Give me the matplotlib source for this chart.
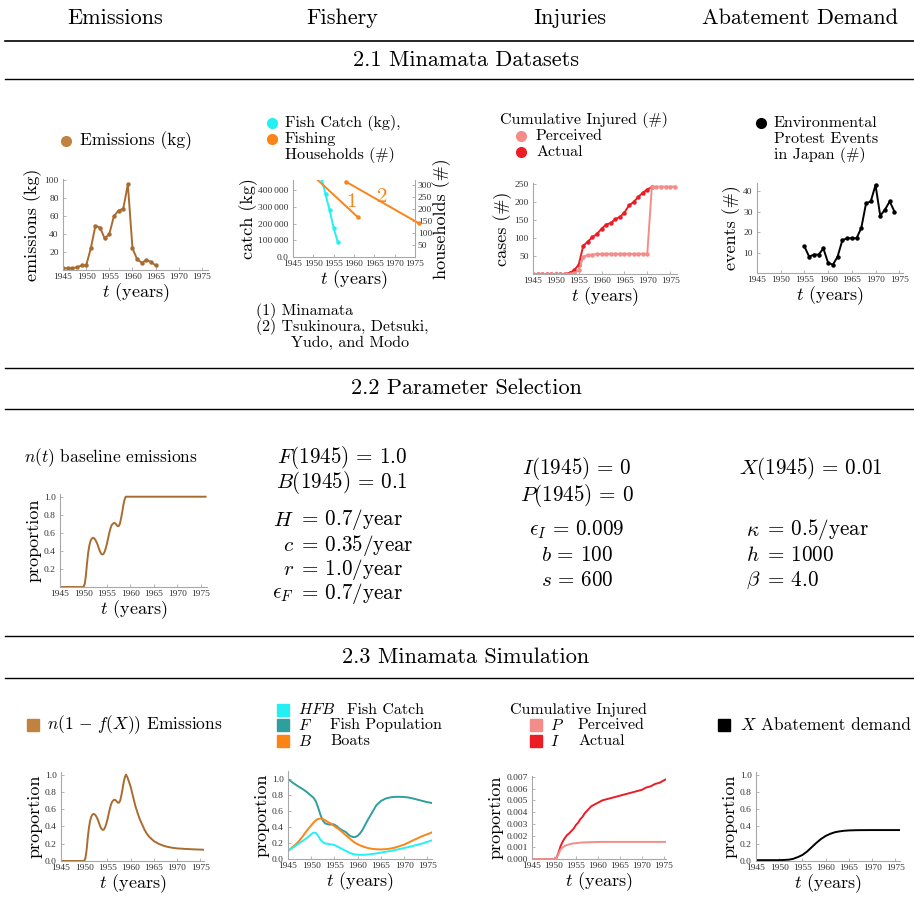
import matplotlib
matplotlib.use("Agg")
import matplotlib.pyplot as plt
from matplotlib.lines import Line2D

plt.rcParams['font.family'] = ['cmr10', 'DejaVu Serif']
plt.rcParams['mathtext.fontset'] = 'cm'
plt.rcParams['axes.formatter.use_mathtext'] = True
plt.rcParams['axes.unicode_minus'] = False

TICKFONT = ['Liberation Serif', 'DejaVu Serif']

BROWN = '#a96c30'
BROWN_KEY = '#c0833f'
CYAN = '#24f0f4'
TEAL = '#2f9e9e'
ORANGE = '#fb8417'
PINK = '#f48c8a'
RED = '#ec1c24'
AXIS_GREY = '#a8a8a8'

# ---- 2.1 datasets ----
emis_years = list(range(1945, 1966))
emis_kg = [2, 2, 2, 3, 5, 5, 24, 49, 47, 35, 40, 60, 66, 68, 95, 24, 12, 8, 11, 9, 5]

catch_years = [1952, 1953, 1954, 1955, 1956]
catch_kg = [470000, 375000, 280000, 174000, 90000]
households_minamata_years = [1950, 1961]
households_minamata = [338, 165]
households_other_years = [1958, 1976]
households_other = [314, 140]

injured_years = list(range(1945, 1977))
injured_actual = [0, 0, 0, 0, 0, 0, 0, 0, 3, 10, 26, 78, 90, 102, 111, 125, 137, 141,
                  152, 158, 170, 190, 199, 213, 225, 234, 241]
injured_perceived = [0, 0, 0, 0, 0, 0, 0, 0, 0, 2, 10, 48, 52, 54, 55, 56, 56, 56, 56,
                     56, 56, 56, 56, 56, 56, 56, 242, 242, 242, 242, 242, 242]

protest_years = list(range(1955, 1975))
protest_events = [13, 8, 9, 9, 12, 5, 4, 8, 16, 17, 17, 17, 22, 34, 35, 43, 28, 31, 35, 30]

# ---- 2.2 baseline emissions n(t) ----
n_years = [1945, 1950.0, 1950.25, 1950.5, 1950.75, 1951.0, 1951.25, 1951.5, 1951.75,
           1952.0, 1952.25, 1952.5, 1952.75, 1953.0, 1953.25, 1953.5, 1953.75, 1954.0,
           1954.25, 1954.5, 1954.75, 1955.0, 1955.25, 1955.5, 1955.75, 1956.0, 1956.25,
           1956.5, 1956.75, 1957.0, 1957.25, 1957.5, 1957.75, 1958.0, 1958.25, 1958.5,
           1958.75, 1959.0, 1976]
n_vals = [0, 0, 0.03, 0.12, 0.26, 0.38, 0.46, 0.51, 0.535, 0.545, 0.54, 0.525, 0.50,
          0.47, 0.43, 0.395, 0.37, 0.36, 0.365, 0.39, 0.43, 0.48, 0.54, 0.60, 0.65,
          0.685, 0.70, 0.71, 0.705, 0.69, 0.675, 0.675, 0.70, 0.76, 0.83, 0.91, 0.97,
          1.0, 1.0]

# ---- 2.3 simulation ----
sim_emis_years = n_years[:-1] + [1959.25, 1959.5, 1959.75, 1960, 1960.5, 1961, 1961.5,
                                 1962, 1962.5, 1963, 1963.5, 1964, 1965, 1966, 1967,
                                 1968, 1969, 1970, 1972, 1974, 1976]
sim_emis = n_vals[:-1] + [0.975, 0.94, 0.90, 0.86, 0.75, 0.64, 0.555, 0.48, 0.42, 0.36,
                          0.315, 0.28, 0.23, 0.20, 0.178, 0.163, 0.153, 0.146, 0.139,
                          0.134, 0.13]

fish_years = [1945, 1946, 1947, 1948, 1949, 1950, 1950.5, 1951, 1951.5, 1952, 1952.5,
              1953, 1953.5, 1954, 1954.5, 1955, 1955.5, 1956, 1956.5, 1957, 1957.5,
              1958, 1958.5, 1959, 1959.5, 1960, 1960.5, 1961, 1961.5, 1962, 1963, 1964,
              1965, 1966, 1967, 1968, 1969, 1970, 1971, 1972, 1973, 1974, 1975, 1976]
fish_F = [1.0, 0.955, 0.915, 0.88, 0.84, 0.79, 0.765, 0.72, 0.64, 0.55, 0.48, 0.445,
          0.435, 0.43, 0.435, 0.43, 0.41, 0.385, 0.365, 0.35, 0.335, 0.305, 0.285,
          0.275, 0.275, 0.29, 0.32, 0.36, 0.415, 0.47, 0.57, 0.67, 0.725, 0.755, 0.77,
          0.777, 0.777, 0.775, 0.768, 0.755, 0.74, 0.725, 0.71, 0.70]
fish_B = [0.1, 0.15, 0.2, 0.27, 0.35, 0.42, 0.455, 0.485, 0.5, 0.505, 0.5, 0.485, 0.465,
          0.45, 0.43, 0.41, 0.39, 0.37, 0.345, 0.32, 0.295, 0.27, 0.245, 0.22, 0.2,
          0.185, 0.17, 0.16, 0.15, 0.14, 0.128, 0.122, 0.12, 0.123, 0.13, 0.142, 0.16,
          0.18, 0.207, 0.235, 0.262, 0.288, 0.31, 0.333]
fish_HFB = [0.1, 0.14, 0.18, 0.22, 0.26, 0.31, 0.33, 0.325, 0.29, 0.24, 0.21, 0.195,
            0.19, 0.185, 0.18, 0.175, 0.16, 0.145, 0.13, 0.115, 0.1, 0.085, 0.072,
            0.062, 0.056, 0.053, 0.052, 0.052, 0.053, 0.055, 0.062, 0.07, 0.08, 0.09,
            0.1, 0.112, 0.124, 0.137, 0.15, 0.165, 0.18, 0.195, 0.215, 0.233]

inj_years = [1945, 1950, 1950.5, 1951, 1951.5, 1952, 1952.5, 1953, 1953.5, 1954, 1954.5,
             1955, 1955.5, 1956, 1956.5, 1957, 1957.5, 1958, 1958.5, 1959, 1959.5, 1960,
             1961, 1962, 1963, 1964, 1965, 1966, 1967, 1968, 1969, 1970, 1971, 1972,
             1973, 1974, 1975, 1975.5]
inj_I = [0, 0, 0.00003, 0.0005, 0.0011, 0.0015, 0.0018, 0.00205, 0.0022, 0.0024, 0.0026,
         0.0029, 0.0031, 0.0034, 0.0036, 0.0039, 0.0041, 0.0043, 0.0045, 0.0046, 0.0047,
         0.0048, 0.005, 0.0051, 0.0052, 0.0053, 0.0054, 0.0055, 0.0056, 0.0057, 0.0058,
         0.0059, 0.0061, 0.0062, 0.0064, 0.0065, 0.0067, 0.0068]
inj_P = [0, 0, 0.00003, 0.0004, 0.0008, 0.001, 0.00112, 0.0012, 0.00125, 0.0013, 0.00133,
         0.00135, 0.00137, 0.0014, 0.00141, 0.00142, 0.00142, 0.00143, 0.00144, 0.00144,
         0.00145, 0.00145, 0.00146, 0.00146, 0.00146, 0.00146, 0.00146, 0.00146,
         0.00146, 0.00146, 0.00146, 0.00146, 0.00146, 0.00146, 0.00146, 0.00146,
         0.00146, 0.00146]

x_years = [1945, 1950, 1951, 1952, 1953, 1954, 1955, 1956, 1957, 1958, 1959, 1960, 1961,
           1962, 1963, 1964, 1965, 1967, 1970, 1976]
x_demand = [0.01, 0.01, 0.012, 0.015, 0.025, 0.045, 0.07, 0.11, 0.16, 0.21, 0.255, 0.29,
            0.315, 0.333, 0.343, 0.35, 0.354, 0.357, 0.358, 0.358]

year_ticks = [1945, 1950, 1955, 1960, 1965, 1970, 1975]

W, H = 914, 915
fig = plt.figure(figsize=(W / 100, H / 100), dpi=100)

LEG = 12.5     # single-line legend / caption text
STACK = 11.5   # stacked legend rows
LAB = 13       # axis labels
TICK = 6.8     # tick labels
PS = 15.2      # parameter equations


def px_axes(left, top, right, bottom):
    return fig.add_axes([left / W, 1 - bottom / H, (right - left) / W, (bottom - top) / H])


def ftext(x, y, s, size=LEG, ha='left', va='center', **kw):
    fig.text(x / W, 1 - y / H, s, fontsize=size, ha=ha, va=va, **kw)


def hline(y, lw=1.0):
    fig.add_artist(Line2D([5 / W, 914 / W], [1 - y / H, 1 - y / H], color='black', lw=lw))


def key(x, y, color, marker='o', size=7):
    fig.add_artist(Line2D([x / W], [1 - y / H], marker=marker, color=color,
                          markersize=size, lw=0))


def style(ax, xlim, ylim, yticks, ylabels, ylab):
    for side in ['top', 'right']:
        ax.spines[side].set_visible(False)
    for side in ['left', 'bottom']:
        ax.spines[side].set_color(AXIS_GREY)
        ax.spines[side].set_linewidth(0.8)
    ax.set_xlim(*xlim)
    ax.set_ylim(*ylim)
    ax.set_xticks(year_ticks, labels=[str(y) for y in year_ticks],
                  fontfamily=TICKFONT, fontsize=TICK)
    ax.set_yticks(yticks, labels=ylabels, fontfamily=TICKFONT, fontsize=TICK)
    ax.tick_params(direction='in', length=2.5, width=0.6, color=AXIS_GREY,
                   labelcolor='#333333')
    ax.tick_params(axis='x', pad=2.5)
    ax.tick_params(axis='y', pad=3)
    ax.set_xlabel('$t$ (years)', fontsize=LAB, labelpad=0)
    ax.set_ylabel(ylab, fontsize=LAB, labelpad=2)
    ax.patch.set_alpha(0)


# ---- header and section rules ----
for cx, label in zip([115, 342, 570, 800], ['Emissions', 'Fishery', 'Injuries', 'Abatement Demand']):
    ftext(cx, 18, label, size=16, ha='center')
hline(41, 1.2)
hline(79)
hline(368)
hline(409)
hline(636)
hline(678)
ftext(466, 60, '2.1 Minamata Datasets', size=16, ha='center')
ftext(466, 388, '2.2 Parameter Selection', size=16, ha='center')
ftext(466, 657, '2.3 Minamata Simulation', size=16, ha='center')

# ---- 2.1 row ----
ax = px_axes(63, 179, 208, 270)
ax.plot(emis_years, emis_kg, color=BROWN, lw=1.4, marker='o', markersize=2.2)
style(ax, (1945, 1976.3), (0, 101), [20, 40, 60, 80, 100],
      ['20', '40', '60', '80', '100'], 'emissions (kg)')
key(66, 141, BROWN_KEY)
ftext(80, 141, 'Emissions (kg)')

ax = px_axes(293, 180, 415, 257)
ax.plot(catch_years, catch_kg, color=CYAN, lw=1.4, marker='o', markersize=2.2)
style(ax, (1945, 1975), (0, 460000), [0, 100000, 200000, 300000, 400000],
      ['0.0', '100\u2009000', '200\u2009000', '300\u2009000', '400\u2009000'],
      'catch (kg)')
ax.yaxis.labelpad = 0
ax2 = ax.twinx()
ax2.set_ylim(0, 321)
ax2.plot(households_minamata_years, households_minamata, color=ORANGE, lw=1.4,
         marker='o', markersize=2.2)
ax2.plot(households_other_years, households_other, color=ORANGE, lw=1.4,
         marker='o', markersize=2.2, clip_on=False)
for side in ['top', 'left', 'bottom']:
    ax2.spines[side].set_visible(False)
ax2.spines['right'].set_color(AXIS_GREY)
ax2.spines['right'].set_linewidth(0.8)
ax2.set_yticks([50, 100, 150, 200, 250, 300],
               labels=['50', '100', '150', '200', '250', '300'],
               fontfamily=TICKFONT, fontsize=TICK)
ax2.tick_params(direction='in', length=2.5, width=0.6, color=AXIS_GREY,
                labelcolor='#333333', pad=2)
ax2.set_ylabel('households (#)', fontsize=LAB, labelpad=0)
ax2.text(1959.3, 229, '1', color=ORANGE, fontsize=15, ha='center', va='center')
ax2.text(1966.9, 250, '2', color=ORANGE, fontsize=15, ha='center', va='center')
key(272, 123, CYAN)
key(272, 139, ORANGE)
ftext(285, 123, 'Fish Catch (kg),', size=STACK)
ftext(285, 139, 'Fishing', size=STACK)
ftext(285, 155, 'Households (#)', size=STACK)
ftext(256, 311, '(1) Minamata', size=STACK)
ftext(256, 327, '(2) Tsukinoura, Detsuki,', size=STACK)
ftext(291, 343, 'Yudo, and Modo', size=STACK)

ax = px_axes(533, 183, 677, 274)
ax.plot(injured_years[:len(injured_actual)], injured_actual, color=RED, lw=1.4,
        marker='o', markersize=2.2)
ax.plot(injured_years, injured_perceived, color=PINK, lw=1.4, marker='o', markersize=2.2)
style(ax, (1945, 1976.5), (0, 252), [50, 100, 150, 200, 250],
      ['50', '100', '150', '200', '250'], 'cases (#)')
ftext(500, 120, 'Cumulative Injured (#)', size=STACK)
key(521, 136, PINK)
key(521, 152, RED)
ftext(536, 136, 'Perceived', size=STACK)
ftext(536, 152, 'Actual', size=STACK)

ax = px_axes(757, 183, 903, 273)
ax.plot(protest_years, protest_events, color='black', lw=1.4, marker='o', markersize=2.2)
style(ax, (1945, 1975.8), (0, 44), [10, 20, 30, 40], ['10', '20', '30', '40'], 'events (#)')
key(761, 123, 'black')
ftext(774, 123, 'Environmental', size=STACK)
ftext(774, 139, 'Protest Events', size=STACK)
ftext(774, 155, 'in Japan (#)', size=STACK)

# ---- 2.2 row ----
ax = px_axes(60, 494, 207, 587)
ax.plot(n_years, n_vals, color=BROWN, lw=1.4)
style(ax, (1945, 1976.3), (0, 1.03), [0.2, 0.4, 0.6, 0.8, 1.0],
      ['0.2', '0.4', '0.6', '0.8', '1.0'], 'proportion')
ftext(24, 458, '$n(t)$ baseline emissions')

ftext(342, 458, r'$F(1945)\,=\,1.0$', size=PS, ha='center')
ftext(342, 483, r'$B(1945)\,=\,0.1$', size=PS, ha='center')
for y, lhs, rhs in [(520, r'$H$', r'$=\,0.7/\mathrm{year}$'),
                    (545, r'$c$', r'$=\,0.35/\mathrm{year}$'),
                    (569, r'$r$', r'$=\,1.0/\mathrm{year}$'),
                    (594, r'$\epsilon_F$', r'$=\,0.7/\mathrm{year}$')]:
    ftext(294, y, lhs, size=PS, ha='right')
    ftext(298, y, rhs, size=PS)

for y, s in [(469, r'$I(1945)\,=\,0$'), (495, r'$P(1945)\,=\,0$'),
             (530, r'$\epsilon_I\,=\,0.009$'), (555, r'$b\,=\,100$'), (580, r'$s\,=\,600$')]:
    ftext(577, y, s, size=PS, ha='center')

ftext(811, 469, r'$X(1945)\,=\,0.01$', size=PS, ha='center')
for y, lhs, rhs in [(530, r'$\kappa$', r'$=\,0.5/\mathrm{year}$'),
                    (555, r'$h$', r'$=\,1000$'),
                    (580, r'$\beta$', r'$=\,4.0$')]:
    ftext(760, y, lhs, size=PS, ha='right')
    ftext(764, y, rhs, size=PS)

# ---- 2.3 row ----
ax = px_axes(61, 772, 204, 861)
ax.plot(sim_emis_years, sim_emis, color=BROWN, lw=1.4)
style(ax, (1945, 1975.8), (0, 1.03), [0.0, 0.2, 0.4, 0.6, 0.8, 1.0],
      ['0.0', '0.2', '0.4', '0.6', '0.8', '1.0'], 'proportion')
key(33, 725, BROWN_KEY, marker='s', size=8)
ftext(47, 725, r'$n(1\,-\,f(X))$ Emissions')

ax = px_axes(288, 771, 432, 859)
ax.plot(fish_years, fish_F, color=TEAL, lw=1.4)
ax.plot(fish_years, fish_B, color=ORANGE, lw=1.4)
ax.plot(fish_years, fish_HFB, color=CYAN, lw=1.4)
style(ax, (1945, 1976), (0, 1.1), [0.0, 0.2, 0.4, 0.6, 0.8, 1.0],
      ['0.0', '0.2', '0.4', '0.6', '0.8', '1.0'], 'proportion')
for y, c in [(710, CYAN), (725, TEAL), (741, ORANGE)]:
    key(283, y, c, marker='s', size=8)
ftext(298, 710, '$HFB$', size=STACK)
ftext(347, 710, 'Fish Catch', size=STACK)
ftext(298, 725, '$F$', size=STACK)
ftext(330, 725, 'Fish Population', size=STACK)
ftext(298, 741, '$B$', size=STACK)
ftext(330, 741, 'Boats', size=STACK)

ax = px_axes(532, 776, 666, 859)
ax.plot(inj_years, inj_I, color=RED, lw=1.4)
ax.plot(inj_years, inj_P, color=PINK, lw=1.4)
inj_ticks = [0.0, 0.001, 0.002, 0.003, 0.004, 0.005, 0.006, 0.007]
style(ax, (1945, 1975.5), (0, 0.00708), inj_ticks,
      ['%.3f' % v for v in inj_ticks], 'proportion')
ftext(510, 710, 'Cumulative Injured', size=STACK)
key(536, 725, PINK, marker='s', size=8)
key(536, 741, RED, marker='s', size=8)
ftext(550, 725, '$P$', size=STACK)
ftext(578, 725, 'Perceived', size=STACK)
ftext(550, 741, '$I$', size=STACK)
ftext(578, 741, 'Actual', size=STACK)

ax = px_axes(756, 772, 900, 861)
ax.plot(x_years, x_demand, color='black', lw=1.4)
style(ax, (1945, 1976), (0, 1.03), [0.0, 0.2, 0.4, 0.6, 0.8, 1.0],
      ['0.0', '0.2', '0.4', '0.6', '0.8', '1.0'], 'proportion')
key(724, 725, 'black', marker='s', size=8)
ftext(740, 725, '$X$')
ftext(761, 725, 'Abatement demand')

fig.savefig('out.png', dpi=100)
